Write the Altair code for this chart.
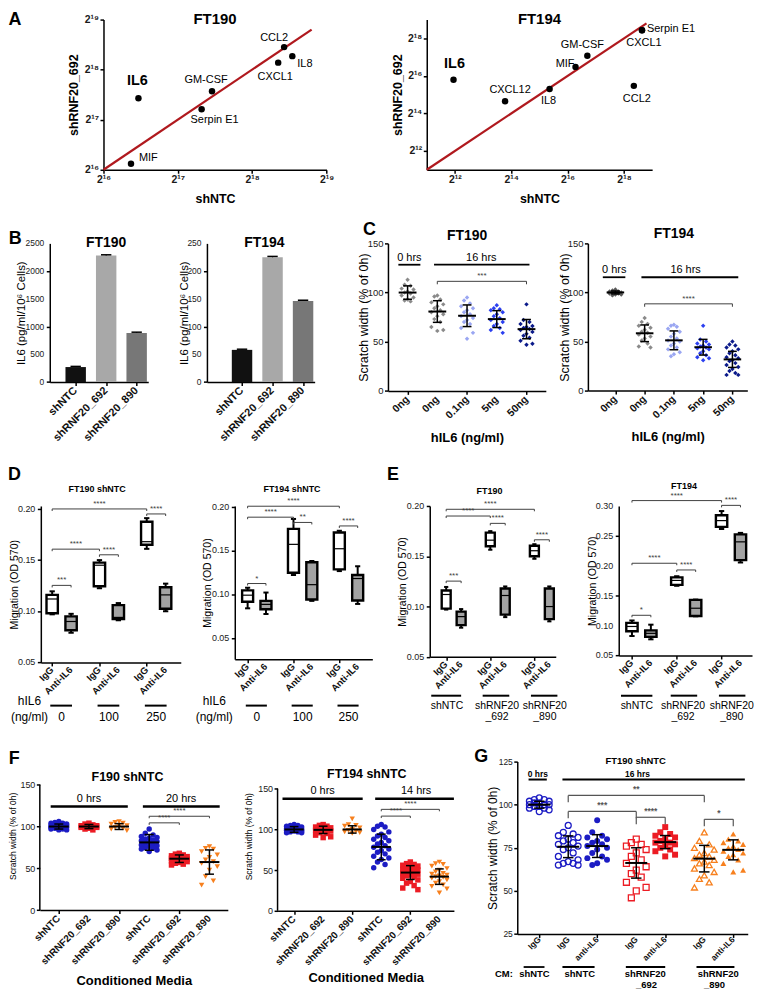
import json
import pandas as pd
import altair as alt

FONT = "Liberation Sans"

# ---------------- A : cytokine array (log2 intensities) ----------------
a1_genes = ["MIF", "IL6", "Serpin E1", "GM-CSF", "CXCL1", "CCL2", "IL8"]
a1_shntc_log2 = [16.37, 16.47, 17.32, 17.46, 18.35, 18.43, 18.54]
a1_sh692_log2 = [16.12, 17.43, 17.21, 17.57, 18.14, 18.45, 18.27]
a1_line_log2 = [16.0, 18.8]

a2_genes = ["IL6", "CXCL12", "IL8", "MIF", "GM-CSF", "CCL2", "Serpin E1", "CXCL1"]
a2_shntc_log2 = [11.95, 13.78, 15.36, 16.28, 16.70, 18.35, 18.64, 18.64]
a2_sh692_log2 = [15.80, 14.65, 15.30, 16.48, 17.07, 15.47, 18.43, 18.43]
a2_line_log2 = [11.0, 18.8]

# ---------------- B : IL6 ELISA ----------------
b_groups = ["shNTC", "shRNF20_692", "shRNF20_890"]
b_pos = [0, 1, 2]
b1_il6 = [270, 2280, 885]
b1_sem = [12, 14, 14]
b1_ticks = [0, 500, 1000, 1500, 2000, 2500]
b2_il6 = [58, 225, 146]
b2_sem = [1.2, 1.5, 1.5]
b2_ticks = [0, 50, 100, 150, 200, 250]

# ---------------- C : scratch assay with hIL6 ----------------
c_labels = ["0ng", "0ng", "0.1ng", "5ng", "50ng"]
c_pos = [0, 1, 2, 3, 4]
c1_values = [
    [113, 108, 107, 104, 103, 101, 100, 99, 97, 95, 93, 92, 91],
    [97, 96, 93, 90, 88, 86, 84, 82, 80, 78, 76, 73, 70, 65, 62, 61],
    [95, 92, 89, 86, 84, 82, 80, 78, 76, 74, 72, 70, 68, 64, 59, 53],
    [87, 84, 83, 82, 80, 78, 76, 74, 72, 70, 68, 66, 64, 62, 59],
    [88, 72, 70, 68, 66, 65, 64, 63, 62, 60, 58, 56, 54, 51, 48, 47],
]
c1_mean = [100, 80.7, 76.4, 73.0, 62.8]
c1_sd = [6.8, 11.0, 11.0, 8.6, 9.8]
c1_sig = [(1, 4, 111.4, "***")]
c2_values = [
    [103, 102, 101, 101, 100, 100, 100, 99, 99, 98, 98, 97],
    [74, 70, 68, 66, 64, 62, 60, 59, 57, 55, 53, 51, 48, 45, 44],
    [67, 66, 65, 63, 60, 58, 55, 53, 51, 50, 48, 46, 44, 42, 39, 37, 35],
    [66, 52, 50, 48, 47, 46, 45, 44, 43, 42, 40, 38, 36, 34, 33, 31],
    [50, 47, 46, 44, 42, 40, 38, 36, 34, 33, 31, 30, 28, 26, 24, 22, 20, 18, 16, 16],
]
c2_mean = [100, 58.4, 51.2, 44.2, 31.8]
c2_sd = [1.5, 8.5, 9.6, 8.0, 8.2]
c2_sig = [(1, 4, 88.4, "****")]

# ---------------- D / E : migration box plots ----------------
de_labels = ["IgG", "Anti-IL6", "IgG", "Anti-IL6", "IgG", "Anti-IL6"]
de_fill = ["IgG", "anti", "IgG", "anti", "IgG", "anti"]
d_pos = [0, 1, 2.5, 3.5, 5, 6]
d_doses = ["0", "100", "250"]
od_ticks = [0.05, 0.10, 0.15, 0.20]
od_ticks_e2 = [0.05, 0.10, 0.15, 0.20, 0.25, 0.30]

d1_min = [0.097, 0.079, 0.1225, 0.0912, 0.161, 0.100]
d1_q1 = [0.098, 0.0815, 0.1245, 0.0925, 0.165, 0.1025]
d1_med = [0.112, 0.090, 0.145, 0.094, 0.168, 0.116]
d1_q3 = [0.116, 0.095, 0.1475, 0.106, 0.1875, 0.1235]
d1_max = [0.1195, 0.0975, 0.150, 0.108, 0.191, 0.127]
d1_sig = [(0, 1, 0.1253, "***"), (0, 2.5, 0.1607, "****"), (2.5, 3.5, 0.1552, "****"),
          (0, 5, 0.200, "****"), (5, 6, 0.1951, "****")]

d2_min = [0.084, 0.0775, 0.122, 0.0925, 0.1265, 0.089]
d2_q1 = [0.0915, 0.083, 0.1246, 0.094, 0.1285, 0.093]
d2_med = [0.099, 0.0885, 0.157, 0.111, 0.152, 0.118]
d2_q3 = [0.1045, 0.0925, 0.1746, 0.1365, 0.1705, 0.122]
d2_max = [0.1075, 0.102, 0.186, 0.138, 0.1725, 0.132]
d2_sig = [(0, 1, 0.1123, "*"), (0, 2.5, 0.188, "****"), (2.5, 3.5, 0.182, "**"),
          (0, 5, 0.2005, "****"), (5, 6, 0.178, "****")]

e_groups = ["shNTC", "shRNF20", "shRNF20"]
e_groups2 = ["", "_692", "_890"]
e1_pos = [0, 1, 2.95, 3.95, 5.9, 6.9]
e1_min = [0.097, 0.079, 0.1565, 0.0895, 0.1475, 0.0853]
e1_q1 = [0.098, 0.0815, 0.160, 0.092, 0.150, 0.0875]
e1_med = [0.112, 0.090, 0.166, 0.111, 0.1555, 0.100]
e1_q3 = [0.116, 0.095, 0.1735, 0.118, 0.1605, 0.118]
e1_max = [0.1195, 0.0975, 0.175, 0.120, 0.162, 0.120]
e1_sig = [(0, 1, 0.1253, "***"), (0, 2.95, 0.190, "****"), (2.95, 3.95, 0.1827, "****"),
          (0, 5.9, 0.1967, "****"), (5.9, 6.9, 0.1664, "****")]

e2_pos = [0, 1, 2.37, 3.37, 4.74, 5.74]
e2_min = [0.0825, 0.077, 0.1665, 0.1155, 0.2615, 0.2055]
e2_q1 = [0.0905, 0.081, 0.168, 0.116, 0.265, 0.2095]
e2_med = [0.0985, 0.087, 0.1755, 0.129, 0.2755, 0.240]
e2_q3 = [0.1045, 0.092, 0.1805, 0.143, 0.2845, 0.2525]
e2_max = [0.1085, 0.1015, 0.1825, 0.1435, 0.2915, 0.255]
e2_sig = [(0, 1, 0.1172, "*"), (0, 2.37, 0.2042, "****"), (2.37, 3.37, 0.193, "****"),
          (0, 4.74, 0.309, "****"), (4.74, 5.74, 0.301, "****")]

# ---------------- F : conditioned media scratch ----------------
f_labels = ["shNTC", "shRNF20_692", "shRNF20_890", "shNTC", "shRNF20_692", "shRNF20_890"]
f_pos = [0, 1, 2, 3, 4, 5]
f1_values = [
    [106, 105, 104, 104, 103, 103, 102, 102, 101, 101, 100, 100, 100, 99, 99, 98, 98, 97, 97, 96, 96],
    [104, 103, 102, 101, 101, 100, 100, 100, 99, 99, 98, 97, 96],
    [106, 105, 104, 103, 101, 100, 99, 98, 97, 95],
    [97, 92, 90, 88, 87, 86, 85, 84, 83, 82, 81, 80, 79, 78, 77, 76, 75, 74, 73, 72, 70],
    [68, 67, 66, 65, 64, 63, 63, 62, 62, 61, 61, 60, 60, 59, 58, 57, 56, 55, 54],
    [76, 74, 73, 70, 66, 63, 60, 58, 56, 52, 48, 40, 35, 30],
]
f1_mean = [100, 100, 100, 81, 61.5, 57.5]
f1_sd = [3, 2.5, 3.5, 9.4, 4.5, 14.5]
f1_sig = [(3, 4, 104.4, "****"), (3, 5, 112.3, "****")]
f2_values = [
    [106, 105, 105, 104, 103, 103, 102, 101, 101, 100, 100, 100, 99, 99, 98, 98, 97, 97, 96, 96],
    [106, 105, 104, 103, 102, 101, 100, 100, 99, 98, 97, 96, 95, 93, 91, 90],
    [113, 106, 105, 104, 102, 100, 99, 98, 97, 96, 95],
    [106, 104, 103, 100, 97, 94, 92, 90, 88, 86, 84, 82, 80, 78, 76, 74, 72, 70, 67, 65, 63, 60, 57, 53],
    [60, 58, 57, 56, 55, 54, 53, 52, 51, 50, 49, 48, 47, 46, 45, 44, 43, 42, 40, 38, 36, 34, 31, 28, 26],
    [60, 58, 57, 55, 52, 50, 48, 46, 45, 44, 43, 42, 41, 40, 38, 36, 34, 32, 30, 27, 22],
]
f2_mean = [100, 99.5, 100, 78.5, 47, 42]
f2_sd = [3.5, 4.5, 4.5, 15.7, 8.5, 9.5]
f2_sig = [(3, 4, 116.4, "****"), (3, 5, 124.7, "****")]

# ---------------- G : anti-IL6 rescue ----------------
g_labels = ["IgG", "IgG", "anti-IL6", "IgG", "anti-IL6", "IgG", "anti-IL6"]
g_pos = [0, 1, 2, 3.35, 4.35, 5.7, 6.7]
g_values = [
    [104, 103, 103, 102, 102, 101, 101, 100, 100, 100, 99, 99, 98, 98, 97, 96],
    [88, 84, 83, 82, 81, 80, 79, 78, 77, 76, 75, 74, 72, 70, 68, 67, 66, 65, 65, 66],
    [91, 84, 82, 81, 80, 79, 78, 77, 76, 75, 74, 72, 70, 69, 68, 66, 65],
    [80, 78, 77, 76, 74, 72, 70, 68, 66, 64, 62, 60, 58, 55, 52, 50, 46],
    [87, 84, 83, 82, 81, 80, 79, 78, 78, 77, 76, 75, 74, 73, 71, 70],
    [84, 79, 77, 75, 74, 72, 71, 70, 69, 68, 67, 66, 65, 63, 61, 59, 57, 55, 52],
    [83, 80, 79, 78, 77, 76, 75, 74, 73, 72, 71, 70, 68, 66, 62, 61],
]
g_mean = [100, 75.6, 76.0, 66.2, 78.3, 68.7, 73.8]
g_sd = [2, 6.3, 6.6, 8.8, 3.8, 7.7, 5.8]
g_sig = [(1, 5.7, 105.4, "**"), (1, 3.35, 96.1, "***"), (3.35, 4.35, 92.7, "****"), (5.7, 6.7, 91.5, "*")]

BLUE, RED, ORANGE = "#1c1cc4", "#ec1c24", "#f7801e"

# ======================================================================
SUP = {"0": "⁰", "1": "¹", "2": "²", "3": "³", "4": "⁴", "5": "⁵", "6": "⁶", "7": "⁷", "8": "⁸", "9": "⁹"}
dummy = pd.DataFrame({"d": [0]})


def pow2(n):
    return "2" + "".join(SUP[c] for c in str(n))


def sc(dom):
    return alt.Scale(domain=list(dom), nice=False, zero=False)


def ax(**kw):
    d = dict(domainColor="black", domainWidth=1.5, tickColor="black", tickWidth=1.5, tickSize=3.5,
             labelColor="#1a1a1a", labelFont=FONT, labelFontSize=10, titleFont=FONT, titleColor="black",
             titleFontSize=12, titleFontWeight="normal", grid=False, labelPadding=1.5,
             labelFlush=False, labelOverlap=False)
    d.update(kw)
    return alt.Axis(**d)


def lab_expr(positions, labels):
    return "{}[indexof({}, datum.value)]".format(json.dumps(labels, ensure_ascii=False), json.dumps(positions))


def cat_axis(positions, **kw):
    return ax(values=positions, labels=False, **kw)


def QX(f, s):
    return alt.X(f, type="quantitative", scale=s)


def QY(f, s):
    return alt.Y(f, type="quantitative", scale=s)


def frame(xs, ys, xdom, ydom, xaxis, yaxis):
    df = pd.DataFrame({"x": list(xdom), "y": list(ydom)})
    return alt.Chart(df).mark_point(opacity=0, size=1).encode(
        x=alt.X("x:Q", scale=xs, axis=xaxis), y=alt.Y("y:Q", scale=ys, axis=yaxis))


def rot_labels(pos, labels, xs, ys, ybase, size, r=7.0):
    df = pd.DataFrame({"x": pos, "y": [ybase] * len(pos), "t": labels})
    return alt.Chart(df).mark_text(angle=315, align="right", baseline="middle", radius=r, theta=3.14159,
                                   font=FONT, fontSize=size, fontWeight="bold", color="#111111").encode(
        x=QX("x", xs), y=QY("y", ys), text="t:N")


def y_labels(values, labels, xs, ys, xbase, size):
    df = pd.DataFrame({"x": [xbase] * len(values), "y": values, "t": labels})
    return alt.Chart(df).mark_text(align="right", baseline="middle", dx=-5.5, font=FONT, fontSize=size,
                                   color="#1a1a1a").encode(x=QX("x", xs), y=QY("y", ys), text="t:N")


def segs(items, xs, ys, color="black", width=1.5):
    df = pd.DataFrame(items, columns=["x", "x2", "y", "y2"])
    return alt.Chart(df).mark_rule(color=color, strokeWidth=width).encode(
        x=QX("x", xs), x2=alt.X2("x2"), y=QY("y", ys), y2=alt.Y2("y2"))


def texts(items, xs, ys, **kw):
    df = pd.DataFrame(items, columns=["x", "y", "t"])
    props = dict(font=FONT, color="black")
    props.update(kw)
    return alt.Chart(df).mark_text(**props).encode(x=QX("x", xs), y=QY("y", ys), text="t:N")


def brackets(spec, xs, ys, leg, color="#404040", width=1.0, size=8, weight="normal"):
    s = []
    t = []
    for x1, x2, y, lab in spec:
        s += [(x1, x2, y, y), (x1, x1, y, y - leg), (x2, x2, y, y - leg)]
        t.append(((x1 + x2) / 2, y, lab))
    return [segs(s, xs, ys, color=color, width=width),
            texts(t, xs, ys, dy=-1, baseline="bottom", fontSize=size, fontWeight=weight, color=color)]


def letter(ch, px, py):
    return alt.Chart(dummy).mark_text(text=ch, font=FONT, fontSize=18, fontWeight="bold", align="left",
                                      baseline="middle", color="black").encode(x=alt.value(px), y=alt.value(py))


def dots(values, pos, colors, shapes, filled, xs, ys, size, spread, sw=1.3):
    keys = ["g%d" % i for i in range(len(values))]
    rows = [{"g": keys[i], "pos": pos[i], "v": v, "f": filled[i]} for i, vals in enumerate(values) for v in vals]
    df = pd.DataFrame(rows)
    out = []
    for fl in (False, True):
        sub = df[df["f"] == fl].drop(columns="f")
        if len(sub) == 0:
            continue
        out.append(
            alt.Chart(sub)
            .transform_window(rn="row_number()", groupby=["g"], sort=[alt.SortField("v", order="descending")])
            .transform_calculate(xj="datum.pos + [0, -1, 1, -2, 2][(datum.rn - 1) %% 5] * %s" % spread)
            .mark_point(filled=fl, size=size, opacity=1, strokeWidth=sw)
            .encode(x=QX("xj", xs), y=QY("v", ys),
                    color=alt.Color("g:N", scale=alt.Scale(domain=keys, range=colors), legend=None),
                    shape=alt.Shape("g:N", scale=alt.Scale(domain=keys, range=shapes), legend=None)))
    return out


def mean_sd(pos, means, sds, xs, ys, half, cap, wm=2.0, we=1.5):
    df = pd.DataFrame({"pos": pos, "m": means, "s": sds})
    base = alt.Chart(df).transform_calculate(
        a="datum.pos - %s" % half, b="datum.pos + %s" % half,
        ca="datum.pos - %s" % cap, cb="datum.pos + %s" % cap,
        lo="datum.m - datum.s", hi="datum.m + datum.s")
    return [
        base.mark_rule(color="black", strokeWidth=we).encode(x=QX("pos", xs), y=QY("lo", ys), y2=alt.Y2("hi")),
        base.mark_rule(color="black", strokeWidth=we).encode(x=QX("ca", xs), x2=alt.X2("cb"), y=QY("lo", ys)),
        base.mark_rule(color="black", strokeWidth=we).encode(x=QX("ca", xs), x2=alt.X2("cb"), y=QY("hi", ys)),
        base.mark_rule(color="black", strokeWidth=wm).encode(x=QX("a", xs), x2=alt.X2("b"), y=QY("m", ys)),
    ]


def boxes(pos, mn, q1, md, q3, mx, fills, xs, ys, bw=0.3, cap=0.14):
    df = pd.DataFrame({"pos": pos, "mn": mn, "q1": q1, "md": md, "q3": q3, "mx": mx, "f": fills})
    base = alt.Chart(df).transform_calculate(
        a="datum.pos - %s" % bw, b="datum.pos + %s" % bw,
        ca="datum.pos - %s" % cap, cb="datum.pos + %s" % cap)
    return [
        base.mark_rule(color="black", strokeWidth=2).encode(x=QX("pos", xs), y=QY("mn", ys), y2=alt.Y2("mx")),
        base.mark_rule(color="black", strokeWidth=2).encode(x=QX("ca", xs), x2=alt.X2("cb"), y=QY("mn", ys)),
        base.mark_rule(color="black", strokeWidth=2).encode(x=QX("ca", xs), x2=alt.X2("cb"), y=QY("mx", ys)),
        base.mark_rect(stroke="black", strokeWidth=2.4).encode(
            x=QX("a", xs), x2=alt.X2("b"), y=QY("q1", ys), y2=alt.Y2("q3"),
            fill=alt.Fill("f:N", scale=alt.Scale(domain=["IgG", "anti"], range=["white", "#a3a3a3"]), legend=None)),
        base.mark_rule(color="black", strokeWidth=1.2).encode(x=QX("a", xs), x2=alt.X2("b"), y=QY("md", ys)),
    ]


# ---------------------------------------------------------------- A
def panel_a(genes, xl, yl, line, dom, ticks, w, h, title, title_y, offsets, ytx, xty, let=None):
    s = sc(dom)
    lab = lab_expr(ticks, [pow2(t) for t in ticks])
    xa = ax(values=ticks, labelExpr=lab, labelFontWeight="bold", labelFontSize=10.5, title="shNTC",
            titleFontWeight="bold", titleFontSize=12.5, titleY=xty, titleBaseline="middle")
    ya = ax(values=ticks, labelExpr=lab, labelFontWeight="bold", labelFontSize=10.5, title="shRNF20_692",
            titleFontWeight="bold", titleFontSize=12.5, titleX=ytx, titleBaseline="middle")
    df = pd.DataFrame({"gene": genes, "x": xl, "y": yl})
    layers = [frame(s, s, dom, dom, xa, ya)]
    layers.append(alt.Chart(pd.DataFrame({"x": line, "y": line})).mark_line(color="#b0191e", strokeWidth=2.2)
                  .encode(x=QX("x", s), y=QY("y", s)))
    layers.append(alt.Chart(df).mark_circle(size=42, color="black", opacity=1).encode(x=QX("x", s), y=QY("y", s)))
    for g in genes:
        dx, dy, al, fs, fw = offsets[g]
        layers.append(alt.Chart(df[df["gene"] == g]).mark_text(
            dx=dx, dy=dy, align=al, baseline="middle", fontSize=fs, fontWeight=fw, font=FONT, color="black")
            .encode(x=QX("x", s), y=QY("y", s), text="gene:N"))
    layers.append(texts([((dom[0] + dom[1]) / 2, title_y, title)], s, s, fontSize=15, fontWeight="bold",
                        baseline="middle"))
    if let:
        layers.append(letter(*let))
    return alt.layer(*layers).properties(width=w, height=h)


a1_off = {"MIF": (8, -6, "left", 11, "normal"), "IL6": (-1, -17, "center", 14.5, "bold"),
          "Serpin E1": (13, 11, "center", 11, "normal"), "GM-CSF": (-6, -11, "center", 11, "normal"),
          "CXCL1": (-3, 14, "center", 11, "normal"), "CCL2": (-10, -9, "center", 11, "normal"),
          "IL8": (5, 8, "left", 11, "normal")}
a2_off = {"IL6": (1, -16, "center", 14.5, "bold"), "CXCL12": (5, -11, "center", 11, "normal"),
          "IL8": (-1, 12, "center", 11, "normal"), "MIF": (-1, -3, "right", 11, "normal"),
          "GM-CSF": (-5, -11, "center", 11, "normal"), "CCL2": (3, 13, "center", 11, "normal"),
          "Serpin E1": (5, -1, "left", 11, "normal"), "CXCL1": (2, 13, "center", 11, "normal")}

A1 = panel_a(a1_genes, a1_shntc_log2, a1_sh692_log2, a1_line_log2, [16, 19], [16, 17, 18, 19], 224.2, 151,
             "FT190", 19.02, a1_off, -30, 29, ("A", -95.5, 0))
A2 = panel_a(a2_genes, a2_shntc_log2, a2_sh692_log2, a2_line_log2, [11, 19], [12, 14, 16, 18], 226.6, 151,
             "FT194", 19.05, a2_off, -29, 28.7)


# ---------------------------------------------------------------- B
def panel_b(vals, sems, xdom, ydom, yticks, w, h, title, tx, ty, ytx, let=None):
    xs, ys = sc(xdom), sc(ydom)
    xa = cat_axis(b_pos, title="")
    ya = ax(values=yticks, labels=False, title="IL6 (pg/ml/10⁶ Cells)", titleFontSize=11.5, titleX=ytx,
            titleBaseline="middle")
    df = pd.DataFrame({"pos": b_pos, "v": vals, "e": sems, "g": b_groups})
    base = alt.Chart(df).transform_calculate(a="datum.pos - 0.335", b="datum.pos + 0.335", z="0",
                                             top="datum.v + datum.e", ca="datum.pos - 0.17", cb="datum.pos + 0.17")
    layers = [frame(xs, ys, xdom, ydom, xa, ya),
              base.mark_rect().encode(x=QX("a", xs), x2=alt.X2("b"), y=QY("v", ys), y2=alt.Y2("z"),
                                      fill=alt.Fill("g:N", scale=alt.Scale(domain=b_groups,
                                                                           range=["#111111", "#a8a8a8", "#777777"]),
                                                    legend=None)),
              base.mark_rule(color="black", strokeWidth=1.2).encode(x=QX("pos", xs), y=QY("v", ys), y2=alt.Y2("top")),
              base.mark_rule(color="black", strokeWidth=1.5).encode(x=QX("ca", xs), x2=alt.X2("cb"), y=QY("top", ys)),
              y_labels(yticks, [str(t) for t in yticks], xs, ys, xdom[0], 8.5),
              rot_labels(b_pos, b_groups, xs, ys, ydom[0], 11),
              texts([(tx, ty, title)], xs, ys, fontSize=14, fontWeight="bold", baseline="middle")]
    if let:
        layers.append(letter(*let))
    return alt.layer(*layers).properties(width=w, height=h)


B1 = panel_b(b1_il6, b1_sem, [-0.85, 2.38], [0, 2500], b1_ticks, 99, 139.4,
             "FT190", 1.0, 2500, -28.5, ("B", -41.3, -4))
B2 = panel_b(b2_il6, b2_sem, [-1.15, 2.38], [0, 250], b2_ticks, 108.3, 139.4,
             "FT194", 0.73, 250, -22.5)


# ---------------------------------------------------------------- C
def panel_c(values, means, sds, sig, colors, xdom, w, h, title, tpos, spans, span_y, ytx, xty, let=None):
    xs, ys = sc(xdom), sc([0, 150])
    xa = cat_axis(c_pos, title="hIL6 (ng/ml)", titleFontWeight="bold", titleFontSize=13,
                  titleY=xty, titleBaseline="middle")
    ya = ax(values=[0, 50, 100, 150], labelFontSize=9.5, title="Scratch width (% of 0h)", titleFontSize=12.5,
            titleX=ytx, titleBaseline="middle")
    layers = [frame(xs, ys, xdom, [0, 150], xa, ya)]
    layers += dots(values, c_pos, colors, ["diamond"] * 5, [True] * 5, xs, ys, 20, 0.1)
    layers += mean_sd(c_pos, means, sds, xs, ys, 0.3, 0.15)
    layers.append(segs([(a, b, span_y, span_y) for a, b, _, _ in spans], xs, ys, width=1.8))
    layers.append(texts([(lx, span_y, t) for _, _, t, lx in spans], xs, ys, dy=-4, baseline="alphabetic",
                        fontSize=11))
    layers += brackets(sig, xs, ys, 3)
    layers.append(rot_labels(c_pos, c_labels, xs, ys, 0, 10.5))
    layers.append(texts([(tpos[0], tpos[1], title)], xs, ys, fontSize=14, fontWeight="bold", baseline="middle"))
    if let:
        layers.append(letter(*let))
    return alt.layer(*layers).properties(width=w, height=h)


C1 = panel_c(c1_values, c1_mean, c1_sd, c1_sig, ["#8a8a8a", "#8a8a8a", "#9aa6f2", "#2b3ff0", "#0b1a8a"],
             [-0.66, 4.65], 158.7, 148.3, "FT190", (2.0, 157),
             [(-0.31, 0.43, "0 hrs", 0.06), (0.89, 4.1, "16 hrs", 2.48)], 128.3, -25, 46.7, ("C", -25, -13))
C2 = panel_c(c2_values, c2_mean, c2_sd, c2_sig, ["#5a5a5a", "#8a8a8a", "#9aa6f2", "#2b3ff0", "#0b1a8a"],
             [-0.94, 4.51], 160.3, 148, "FT194", (2.0, 160),
             [(-0.43, 0.34, "0 hrs", -0.04), (0.89, 4.2, "16 hrs", 2.4)], 115.5, -23, 46)


# ---------------------------------------------------------------- D / E
def panel_box(pos, mn, q1, md, q3, mx, sig, xdom, ydom, yticks, w, h, title, tpos, leg, ytx, extra, let=None):
    xs, ys = sc(xdom), sc(ydom)
    xa = cat_axis(pos, title="")
    ya = ax(values=yticks, labels=False, title="Migration (OD 570)", titleFontSize=10.6,
            titleX=ytx, titleBaseline="middle")
    layers = [frame(xs, ys, xdom, ydom, xa, ya)]
    layers += boxes(pos, mn, q1, md, q3, mx, de_fill, xs, ys)
    layers += brackets(sig, xs, ys, leg, size=8)
    layers.append(y_labels(yticks, ["%.2f" % t for t in yticks], xs, ys, xdom[0], 9))
    layers.append(rot_labels(pos, de_labels, xs, ys, ydom[0], 9.5, r=6))
    layers.append(texts([(tpos[0], tpos[1], title)], xs, ys, fontSize=9, fontWeight="bold", baseline="middle"))
    layers += extra(xs, ys)
    if let:
        layers.append(letter(*let))
    return alt.layer(*layers).properties(width=w, height=h)


def d_extra(line_y, num_y, hx, hy1, hy2):
    def f(xs, ys):
        lines = [(d_pos[2 * i] - 0.1, d_pos[2 * i + 1] + 0.05, line_y, line_y) for i in range(3)]
        nums = [((d_pos[2 * i] + d_pos[2 * i + 1]) / 2, num_y, d_doses[i]) for i in range(3)]
        return [segs(lines, xs, ys, width=2),
                texts(nums + [(hx, hy1, "hIL6"), (hx, hy2, "(ng/ml)")], xs, ys, fontSize=12, baseline="middle")]
    return f


def e_extra(lines, line_y, tx, ty1, ty2):
    def f(xs, ys):
        items = [(tx[i], ty1, e_groups[i]) for i in range(3)] + [(tx[i], ty2, e_groups2[i]) for i in range(1, 3)]
        return [segs([(a, b, line_y, line_y) for a, b in lines], xs, ys, width=2),
                texts(items, xs, ys, fontSize=10.5, baseline="middle")]
    return f


D1 = panel_box(d_pos, d1_min, d1_q1, d1_med, d1_q3, d1_max, d1_sig, [-0.6, 6.8], [0.05, 0.2029],
               od_ticks, 140.7, 157.3, "FT190 shNTC", (2.38, 0.2194), 0.002, -26.5,
               d_extra(0.0078, -0.0029, -1.2, 0.0124, -0.0029), ("D", -33, -31))
D2 = panel_box(d_pos, d2_min, d2_q1, d2_med, d2_q3, d2_max, d2_sig, [-0.7, 6.8], [0.026, 0.2008],
               od_ticks, 138.3, 154, "FT194 shNTC", (2.42, 0.2201), 0.0023, -27,
               d_extra(-0.027, -0.0395, -1.82, -0.0217, -0.0395))
E1 = panel_box(e1_pos, e1_min, e1_q1, e1_med, e1_q3, e1_max, e1_sig, [-1.1, 7.33], [0.05, 0.20],
               od_ticks, 126.7, 151.7, "FT190", (2.9, 0.2151), 0.002, -27,
               e_extra([(-1, 1), (2.44, 4.22), (5.67, 7.44)], 0.0114, [0.05, 3.4, 6.6], 0.0015, -0.0094),
               ("E", -43, -31))
E2 = panel_box(e2_pos, e2_min, e2_q1, e2_med, e2_q3, e2_max, e2_sig, [-0.7, 6.35], [0.05, 0.30],
               od_ticks_e2, 134, 150.3, "FT194", (2.75, 0.333), 0.0033, -26.3,
               e_extra([(-0.58, 1.08), (2.05, 3.45), (4.6, 6.0)], -0.0172, [0.26, 2.7, 5.28], -0.0338, -0.0521))


# ---------------------------------------------------------------- F
def panel_f(values, means, sds, sig, xdom, ytop, w, h, title, tpos, spans, span_y, ytx, xty, let=None):
    xs, ys = sc(xdom), sc([0, ytop])
    xa = cat_axis(f_pos, title="Conditioned Media", titleFontWeight="bold", titleFontSize=13,
                  titleY=xty, titleBaseline="middle")
    ya = ax(values=[0, 50, 100, 150], domain=False, labelFontSize=9, title="Scratch width (% of 0h)",
            titleFontSize=8.5, titleX=ytx, titleBaseline="middle")
    layers = [frame(xs, ys, xdom, [0, ytop], xa, ya), segs([(xdom[0], xdom[0], 0, 150)], xs, ys, width=1.5)]
    layers += dots(values, f_pos, [BLUE, RED, ORANGE] * 2, ["circle", "square", "triangle-down"] * 2,
                   [True] * 6, xs, ys, 30, 0.13)
    layers += mean_sd(f_pos, means, sds, xs, ys, 0.33, 0.15)
    layers.append(segs([(a, b, span_y, span_y) for a, b, _, _ in spans], xs, ys, width=2.5))
    layers.append(texts([(lx, span_y, t) for _, _, t, lx in spans], xs, ys, dy=-5, baseline="alphabetic",
                        fontSize=11))
    layers += brackets(sig, xs, ys, 2.4)
    layers.append(rot_labels(f_pos, f_labels, xs, ys, 0, 10))
    layers.append(texts([(tpos[0], tpos[1], title)], xs, ys, fontSize=12.5, fontWeight="bold", baseline="middle"))
    if let:
        layers.append(letter(*let))
    return alt.layer(*layers).properties(width=w, height=h)


F1 = panel_f(f1_values, f1_mean, f1_sd, f1_sig, [-0.63, 5.61], 177.7, 189, 149.3, "F190 shNTC", (2.28, 159.5),
             [(-0.27, 2.29, "0 hrs", 1.0), (2.79, 5.34, "20 hrs", 4.06)], 124, -27.3, 70.7, ("F", -31.3, -3))
F2 = panel_f(f2_values, f2_mean, f2_sd, f2_sig, [-0.57, 5.5], 183.4, 177.3, 150, "FT194 shNTC", (2.5, 168.3),
             [(-0.4, 2.36, "0 hrs", 0.98), (2.79, 5.5, "14 hrs", 4.2)], 137.8, -29.3, 67.3)


# ---------------------------------------------------------------- G
def panel_g():
    xdom, ydom = [-0.76, 7.2], [25, 125]
    xs, ys = sc(xdom), sc(ydom)
    xa = cat_axis(g_pos, title="")
    ya = ax(values=[25, 50, 75, 100, 125], labelFontSize=8.5, title="Scratch width (% of 0h)", titleFontSize=12,
            titleX=-25.3, titleBaseline="middle")
    layers = [frame(xs, ys, xdom, ydom, xa, ya)]
    layers += dots(g_values, g_pos, [BLUE, BLUE, BLUE, RED, RED, ORANGE, ORANGE],
                   ["circle", "circle", "circle", "square", "square", "triangle-up", "triangle-up"],
                   [False, False, True, False, True, False, True], xs, ys, 36, 0.17)
    layers += mean_sd(g_pos, g_mean, g_sd, xs, ys, 0.38, 0.18)
    layers.append(segs([(-0.37, 0.26, 114.6, 114.6), (0.8, 7.1, 114.6, 114.6)], xs, ys, width=2))
    layers.append(texts([(-0.05, 114.6, "0 hrs"), (3.39, 114.6, "16 hrs")], xs, ys, dy=-3, baseline="alphabetic",
                        fontSize=8.5, fontWeight="bold"))
    layers += brackets(g_sig, xs, ys, 4, color="#555555", width=1.2, size=8.5, weight="bold")
    layers.append(rot_labels(g_pos, g_labels, xs, ys, 25, 8.5, r=4))
    layers.append(texts([(3.33, 125.6, "FT190 shNTC")], xs, ys, fontSize=9.5, fontWeight="bold", baseline="middle"))
    layers.append(segs([(-0.54, 0.18, 5.83, 5.83), (0.8, 1.91, 5.83, 5.83), (2.99, 4.35, 5.83, 5.83),
                        (5.43, 6.74, 5.83, 5.83)], xs, ys, width=1.8))
    layers.append(texts([(-1.22, 1.5, "CM:"), (-0.17, 1.5, "shNTC"), (1.4, 1.5, "shNTC"),
                         (3.66, 1.5, "shRNF20"), (6.18, 1.5, "shRNF20")], xs, ys, fontSize=9.5,
                        fontWeight="bold", baseline="middle"))
    layers.append(texts([(3.7, -4.56, "_692"), (6.05, -4.56, "_890")], xs, ys, fontSize=9.5,
                        fontWeight="bold", baseline="middle"))
    layers.append(letter("G", -43.3, -4.2))
    return alt.layer(*layers).properties(width=231.7, height=173.3)


G = panel_g()


# ---------------------------------------------------------------- layout
def gap(w):
    return alt.Chart(dummy).mark_point(opacity=0, size=1).encode(
        x=alt.value(0), y=alt.value(0)).properties(width=w, height=1)


def lead(w, above, below):
    # invisible left margin of a row; fixes how far the row reaches above and below its plot tops
    return alt.Chart(dummy).mark_rule(opacity=0).encode(
        x=alt.value(0), y=alt.value(-above), y2=alt.value(below)).properties(width=w, height=1)


IND = dict(color="independent", shape="independent", fill="independent")


def row(*items):
    return alt.hconcat(*items, spacing=0, bounds="flush").resolve_scale(**IND)


rowA = row(lead(95.5, 9, 195), A1, gap(100), A2)
rowBC = row(lead(41.3, 30, 219), B1, gap(58.4), B2, gap(73), C1, gap(41.3), C2)
rowDE = row(lead(33, 45, 236.7), D1, gap(53.3), D2, gap(56.7), E1, gap(62.6), E2)
rowFG = row(lead(31.3, 20, 150), F1, gap(50), F2, gap(62.7), G)

chart = alt.vconcat(rowA, rowBC, rowDE, rowFG, spacing=0, padding=0) \
    .resolve_scale(**IND) \
    .configure(font=FONT) \
    .configure_view(stroke=None)

chart.save("out.html", embed_options={"renderer": "svg", "actions": False})
